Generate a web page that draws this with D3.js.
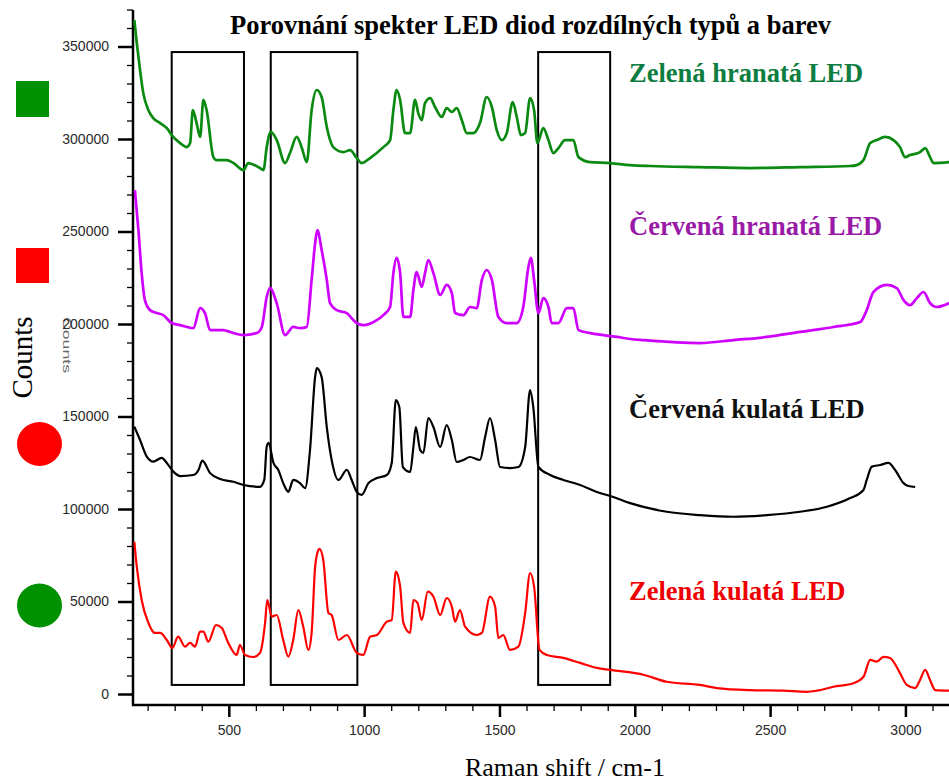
<!DOCTYPE html>
<html>
<head>
<meta charset="utf-8">
<script src="https://d3js.org/d3.v7.min.js"></script>
<style>
  body { margin: 0; background: #fff; }
  svg text { font-family: "Liberation Serif", "Times New Roman", serif; }
  .tick text { font-family: "Liberation Sans", Arial, sans-serif; font-size: 14px; fill: #2a2a2a; }
</style>
</head>
<body>
  <div id="my_dataviz"></div>
  <script>
    // Raman shift (cm-1), counts
    var zelenaHranata = [[151,364300],[160,351900],[172,337300],[184,324800],[203,315600],[221,311300],[246,308600],[271,305900],[289,302100],[320,297800],[344,295600],[357,297800],[367,315600],[381,308600],[394,301100],[406,321100],[418,315600],[443,290200],[455,288600],[492,288600],[517,287000],[554,283200],[572,287000],[615,284300],[628,283200],[640,295600],[655,303800],[677,299400],[708,287000],[726,292400],[751,301100],[769,295600],[788,287500],[806,315600],[825,326500],[843,322700],[862,306500],[886,295600],[923,292900],[948,294000],[973,289700],[991,287000],[1022,289700],[1071,295600],[1096,299400],[1108,315600],[1120,326500],[1133,321100],[1151,303200],[1170,303200],[1188,321100],[1200,314000],[1213,310200],[1225,319400],[1244,322100],[1262,317300],[1287,311900],[1305,316700],[1324,314600],[1342,316700],[1361,310200],[1379,303200],[1404,303200],[1428,308600],[1453,322700],[1472,317300],[1490,304800],[1509,299400],[1527,303200],[1549,320000],[1564,311900],[1579,302100],[1595,303200],[1613,322100],[1628,315600],[1640,297800],[1662,305900],[1681,299400],[1699,292400],[1718,295100],[1742,299400],[1773,299400],[1792,290200],[1835,287500],[1909,287000],[1983,285900],[2057,285400],[2241,284800],[2426,284300],[2611,284800],[2796,285400],[2820,285900],[2845,288600],[2870,297800],[2894,299400],[2925,301100],[2956,299400],[2980,295600],[2999,290200],[3017,291300],[3054,292900],[3073,295100],[3091,290200],[3104,287000],[3162,287500]];

    var cervenaHranata = [[153,272400],[166,250800],[178,227500],[190,212900],[209,207500],[234,205900],[258,204800],[289,200500],[320,199400],[369,197800],[394,208600],[412,205900],[431,196700],[480,196700],[517,195100],[554,194000],[603,195100],[622,198400],[640,214600],[652,219400],[677,211300],[708,194000],[738,198400],[763,197800],[788,198400],[806,223800],[819,243800],[827,250800],[843,240000],[862,223800],[874,211300],[899,207500],[936,205900],[960,202100],[973,200500],[997,199400],[1047,202100],[1071,204800],[1096,209200],[1108,227500],[1120,235700],[1133,227500],[1145,203800],[1170,203800],[1182,218400],[1194,228100],[1213,220000],[1225,227500],[1237,234600],[1256,227500],[1281,215700],[1305,221100],[1324,216700],[1336,205900],[1367,204800],[1391,209200],[1416,208600],[1435,223800],[1453,229200],[1472,223800],[1496,203800],[1527,200500],[1564,200500],[1588,209200],[1607,230800],[1616,235700],[1628,223800],[1644,205900],[1662,214000],[1681,209200],[1693,200500],[1718,200500],[1749,208600],[1773,208600],[1792,196700],[1835,195100],[1884,194000],[1934,193000],[1983,191900],[2032,191300],[2241,189700],[2364,191300],[2488,193000],[2611,195700],[2734,198400],[2833,201100],[2857,207500],[2882,217300],[2931,221100],[2968,219400],[2993,212900],[3017,210200],[3042,214000],[3067,217300],[3091,211300],[3116,209200],[3162,211300]];

    var cervenaKulata = [[151,144500],[172,137300],[197,128300],[221,125600],[252,127600],[271,124900],[295,120200],[320,117800],[369,118400],[388,121100],[402,126100],[431,119400],[468,116200],[517,114700],[554,113000],[615,112000],[631,115700],[640,133700],[647,135700],[665,124900],[683,121100],[701,114000],[720,109300],[738,115700],[763,114000],[782,111300],[800,131900],[819,171500],[825,176200],[843,171300],[862,144300],[880,126500],[905,115700],[936,121100],[954,115700],[973,109200],[991,107600],[1016,114000],[1047,116700],[1084,118400],[1102,124900],[1117,158900],[1130,155100],[1143,122700],[1170,120000],[1182,133500],[1191,144300],[1207,131900],[1219,130300],[1237,149200],[1256,144300],[1281,133500],[1305,145400],[1324,137300],[1342,125400],[1367,126500],[1391,128100],[1428,126500],[1447,138900],[1465,149200],[1484,137300],[1502,122700],[1539,122100],[1570,122700],[1595,133500],[1613,164300],[1625,155100],[1644,122700],[1687,118400],[1736,115700],[1798,113000],[1860,109200],[1921,106500],[1983,103200],[2118,98500],[2241,96700],[2364,95800],[2488,96700],[2611,98500],[2710,101200],[2796,105900],[2845,110300],[2857,115700],[2876,122900],[2907,123800],[2937,124900],[2962,121100],[2993,114000],[3011,112400],[3036,111900]];

    var zelenaKulata = [[151,82300],[160,68800],[178,50800],[203,38400],[227,33000],[246,33000],[271,29200],[291,24900],[313,31000],[338,25600],[357,27600],[375,25600],[394,33700],[406,33700],[424,28300],[453,37300],[474,35700],[498,27600],[529,21100],[541,26500],[560,21100],[590,20000],[615,22200],[634,38400],[642,50800],[659,41800],[677,42700],[701,29200],[720,20200],[738,29200],[757,45400],[775,36400],[794,23800],[806,33000],[819,68800],[831,77800],[835,78400],[849,72400],[868,43800],[880,42700],[905,29200],[936,31900],[973,22200],[997,21100],[1022,31000],[1047,31900],[1084,39100],[1102,40000],[1117,66100],[1133,58000],[1145,38400],[1170,33000],[1182,50800],[1197,49200],[1213,40000],[1235,55300],[1256,52600],[1281,42700],[1305,51900],[1324,47200],[1336,39100],[1354,45400],[1373,36400],[1416,31900],[1435,33000],[1465,52600],[1484,47200],[1496,30300],[1514,31900],[1539,23800],[1570,25600],[1595,43800],[1613,65400],[1628,58000],[1648,23800],[1675,21100],[1736,19500],[1798,16800],[1860,14100],[1909,13000],[2035,10300],[2118,6600],[2241,4900],[2303,3200],[2426,2100],[2549,1800],[2635,1200],[2673,1800],[2734,3900],[2808,5800],[2845,9300],[2870,18400],[2894,17500],[2919,20100],[2943,19500],[2980,11300],[3005,4900],[3036,3200],[3054,7600],[3073,13000],[3091,7600],[3110,2100],[3162,1800]];

    var seriesNames = ["Zelená kulatá LED", "Červená kulatá LED", "Červená hranatá LED", "Zelená hranatá LED"];
    var seriesData = [zelenaKulata, cervenaKulata, cervenaHranata, zelenaHranata];
    var lineColors = ["#ff0000", "#000000", "#d000ff", "#0b8a12"];
    var lineWidths = [2.2, 2.2, 2.7, 2.7];
    var labelColors = ["#ee0000", "#111111", "#9a1aa8", "#0d7d40"];
    var labelCounts = [51000, 149000, 248000, 331000];   // label baselines, in counts

    var boxRanges = [[289, 556], [655, 975], [1643, 1909]];
    var boxCounts = [4900, 347000];

    var yMajor = [0, 50000, 100000, 150000, 200000, 250000, 300000, 350000];
    var yMinor = d3.range(0, 370001, 10000);
    var xMajor = [500, 1000, 1500, 2000, 2500, 3000];
    var xMinor = d3.range(200, 3101, 100);

    var width = 949, height = 783;

    var svg = d3.select("#my_dataviz")
      .append("svg")
      .attr("width", width)
      .attr("height", height);

    var x = d3.scaleLinear().domain([146, 3161]).range([133, 949]);
    var y = d3.scaleLinear().domain([-5946, 369730]).range([705, 10]);

    // left markers
    svg.append("rect").attr("x", 16).attr("y", 81).attr("width", 33).attr("height", 36).style("fill", "#009100");
    svg.append("rect").attr("x", 16).attr("y", 248).attr("width", 33).attr("height", 35).style("fill", "#ff0000");
    svg.append("ellipse").attr("cx", 39.5).attr("cy", 444).attr("rx", 22.5).attr("ry", 22).style("fill", "#ff0000");
    svg.append("ellipse").attr("cx", 39.5).attr("cy", 605.5).attr("rx", 22.5).attr("ry", 22).style("fill", "#009100");

    // faint flipped ghost label
    svg.append("text")
      .attr("transform", "translate(63,317) rotate(90)")
      .attr("textLength", 56).attr("lengthAdjust", "spacingAndGlyphs")
      .style("font-family", "Liberation Sans, sans-serif")
      .style("font-size", "10px").style("fill", "#666")
      .text("Counts");

    // y axis ticks
    var yMinorAxis = d3.axisLeft(y).tickValues(yMinor).tickSize(6).tickSizeOuter(0).tickFormat("");
    var yMajorAxis = d3.axisLeft(y).tickValues(yMajor).tickSize(15).tickSizeOuter(0).tickPadding(9).tickFormat(d3.format("d"));
    var gyMin = svg.append("g").attr("transform", "translate(" + x.range()[0] + ",0)").call(yMinorAxis);
    var gyMaj = svg.append("g").attr("transform", "translate(" + x.range()[0] + ",0)").call(yMajorAxis);

    var xMinorAxis = d3.axisBottom(x).tickValues(xMinor).tickSize(6).tickSizeOuter(0).tickFormat("");
    var xMajorAxis = d3.axisBottom(x).tickValues(xMajor).tickSize(12).tickSizeOuter(0).tickPadding(8).tickFormat(d3.format("d"));
    var gxMin = svg.append("g").attr("transform", "translate(0," + y.range()[0] + ")").call(xMinorAxis);
    var gxMaj = svg.append("g").attr("transform", "translate(0," + y.range()[0] + ")").call(xMajorAxis);

    [gyMin, gyMaj, gxMin, gxMaj].forEach(function (g) { g.select(".domain").remove(); });
    gyMin.selectAll("line").style("stroke", "#000").style("stroke-width", 1.3);
    gxMin.selectAll("line").style("stroke", "#000").style("stroke-width", 1.3);
    gyMaj.selectAll("line").style("stroke", "#000").style("stroke-width", 2.5);
    gxMaj.selectAll("line").style("stroke", "#000").style("stroke-width", 2.5);

    // axis lines
    svg.append("line")
      .attr("x1", x.range()[0]).attr("x2", x.range()[0])
      .attr("y1", y.range()[1]).attr("y2", y.range()[0] + 1)
      .style("stroke", "#000").style("stroke-width", 2.5);
    svg.append("line")
      .attr("x1", x.range()[0] - 1).attr("x2", x.range()[1])
      .attr("y1", y.range()[0]).attr("y2", y.range()[0])
      .style("stroke", "#000").style("stroke-width", 2.5);

    // boxes
    svg.selectAll(".box")
      .data(boxRanges)
      .enter()
      .append("rect")
      .attr("class", "box")
      .attr("x", function (d) { return x(d[0]); })
      .attr("width", function (d) { return x(d[1]) - x(d[0]); })
      .attr("y", y(boxCounts[1]))
      .attr("height", y(boxCounts[0]) - y(boxCounts[1]))
      .style("fill", "none")
      .style("stroke", "#000")
      .style("stroke-width", 2);

    // spectra
    var line = d3.line()
      .curve(d3.curveMonotoneX)
      .x(function (d) { return x(d[0]); })
      .y(function (d) { return y(d[1]); });

    svg.selectAll(".spec")
      .data(seriesData)
      .enter()
      .append("path")
      .attr("class", "spec")
      .attr("d", line)
      .style("fill", "none")
      .style("stroke", function (d, i) { return lineColors[i]; })
      .style("stroke-width", function (d, i) { return lineWidths[i]; })
      .style("stroke-linejoin", "round");

    // series labels
    svg.selectAll(".lab")
      .data(seriesNames)
      .enter()
      .append("text")
      .attr("class", "lab")
      .attr("x", 629)
      .attr("y", function (d, i) { return y(labelCounts[i]); })
      .style("font-size", "26.5px")
      .style("font-weight", "bold")
      .style("fill", function (d, i) { return labelColors[i]; })
      .text(function (d) { return d; });

    // title
    svg.append("text")
      .attr("x", 530.5).attr("y", 34)
      .attr("text-anchor", "middle")
      .style("font-size", "26.5px").style("font-weight", "bold")
      .text("Porovnání spekter LED diod rozdílných typů a barev");

    // axis titles
    svg.append("text")
      .attr("x", 565).attr("y", 776)
      .attr("text-anchor", "middle")
      .style("font-size", "26px")
      .text("Raman shift / cm-1");

    svg.append("text")
      .attr("transform", "translate(31.5,357.5) rotate(-90)")
      .attr("text-anchor", "middle")
      .style("font-size", "29px")
      .text("Counts");
  </script>
</body>
</html>
